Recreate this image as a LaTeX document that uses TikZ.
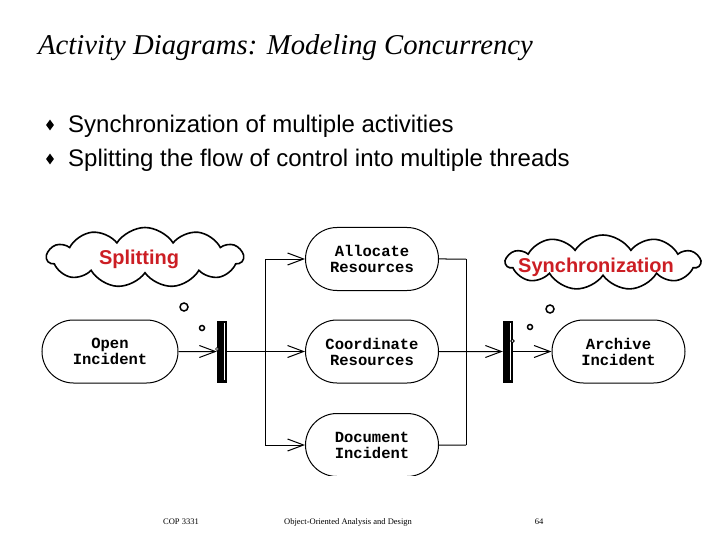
\documentclass[tikz,border=0pt]{standalone}
\usepackage{fontspec}
\setmainfont{Liberation Serif}
\setsansfont{Liberation Sans}
\setmonofont{Liberation Mono}
\usepackage{tikz}
\usetikzlibrary{arrows.meta,shapes.symbols,shapes.geometric,shapes.misc,positioning}
\definecolor{calloutred}{RGB}{204,30,36}

\begin{document}
\begin{tikzpicture}[x=1pt,y=-1pt,
  activity/.style={draw, line width=1pt, rounded rectangle, rounded rectangle arc length=180,
    minimum width=137pt, minimum height=63pt, align=center, inner sep=2pt,
    font=\ttfamily\bfseries\fontsize{15.5}{16}\selectfont},
  bar/.style={draw, fill=black, minimum width=9pt, minimum height=61pt, inner sep=0pt},
  flow/.style={line width=1pt, -{Straight Barb[length=16pt,width=12pt,line width=1pt]}},
  thought/.style={cloud, cloud puffs=11, cloud puff arc=115, cloud ignores aspect,
    draw, line width=1.6pt, inner sep=0pt},
  bubble/.style={draw, circle, fill=white, inner sep=0pt, line width=1.5pt},
  callout/.style={font=\sffamily\bfseries\fontsize{20}{24}\selectfont, text=calloutred},
  bulletpt/.style={diamond, fill=black, inner sep=0pt, minimum width=8pt, minimum height=11pt},
  bullettext/.style={anchor=base west, inner sep=0pt, font=\sffamily\fontsize{24}{28}\selectfont},
  footer/.style={anchor=base, font=\fontsize{8.5}{10}\selectfont}]

\useasboundingbox (0,0) rectangle (720,540);

% Title
\node[anchor=base west, inner sep=0pt, font=\itshape\fontsize{28.7}{34}\selectfont] (title) at (38,55)
  {Activity Diagrams: Modeling Concurrency};

% Bullet list
\node[bulletpt] (b1) at (50,125) {};
\node[bullettext] (l1) at (68,133) {Synchronization of multiple activities};
\node[bulletpt] (b2) at (50,159) {};
\node[bullettext] (l2) at (68,167) {Splitting the flow of control into multiple threads};

% Activities
\node[activity, minimum width=140pt] (open) at (110,351.5) {Open\\Incident};
\node[activity] (alloc) at (372,259) {Allocate\\Resources};
\node[activity] (coord) at (372,351.5) {Coordinate\\Resources};
\begin{scope}
  \clip (0,0) rectangle (720,475);
  \node[activity] (doc) at (372,445) {Document\\Incident};
\end{scope}
\node[activity] (archive) at (618.5,351.5) {Archive\\Incident};

% Fork and join bars
\node[bar] (fork) at (221.5,351.5) {};
\node[bar] (join) at (507.5,351.5) {};
\draw[white, line width=0.8pt, shorten <=2pt, shorten >=2pt]
  ([xshift=-2pt]fork.north east) -- ([xshift=-2pt]fork.south east);
\draw[white, line width=0.8pt, shorten <=2pt, shorten >=2pt]
  ([xshift=-2pt]join.north east) -- ([xshift=-2pt]join.south east);
\coordinate (split) at (265,351.5);
\coordinate (merge) at (466,351.5);

% Splitting the flow
\draw[flow] (open) -- (fork);
\draw[line width=1pt] (fork) -- (split);
\draw[line width=1pt] (split |- alloc) -- (split |- doc);
\draw[flow] (split |- alloc) -- (alloc);
\draw[flow] (split) -- (coord);
\draw[flow] (split |- doc) -- (doc);

% Synchronization
\draw[line width=1pt] (alloc) -- (merge |- alloc);
\draw[line width=1pt] (doc) -- (merge |- doc);
\draw[line width=1pt] (merge |- alloc) -- (merge |- doc);
\draw[flow] (coord) -- (join);
\draw[flow] (join) -- (archive);

% Thought clouds
\node[thought, minimum width=196pt, minimum height=60pt] (splitcloud) at (145,257.5) {};
\node[callout] (splittext) at (139,259) {Splitting};
\node[thought, minimum width=194pt, minimum height=55pt] (synccloud) at (603,262.5) {};
\node[callout] (synctext) at (596,267) {Synchronization};
\node[bubble, minimum size=8pt] (sb1) at (184,307) {};
\node[bubble, minimum size=5pt] (sb2) at (202,328) {};
\node[bubble, minimum size=3pt, line width=0.7pt] (sb3) at (217,349) {};
\node[bubble, minimum size=8pt] (yb1) at (550,309) {};
\node[bubble, minimum size=5pt] (yb2) at (530,327) {};
\node[bubble, minimum size=3.5pt, line width=0.8pt] (yb3) at (512.5,341) {};

% Footer
\node[footer] (course) at (181,524) {COP 3331};
\node[footer] (subject) at (348,524) {Object-Oriented Analysis and Design};
\node[footer] (page) at (539,524) {64};

\end{tikzpicture}
\end{document}
